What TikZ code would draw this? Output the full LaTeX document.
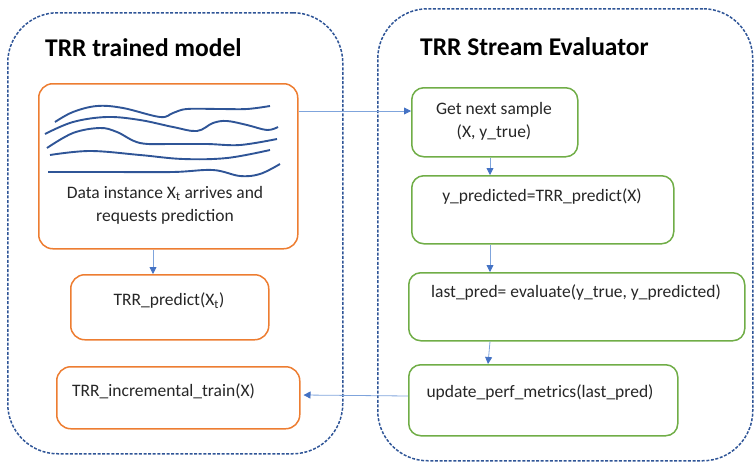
\documentclass[tikz,border=0pt]{standalone}
\usepackage{fontspec}
\setmainfont{Carlito}
\usetikzlibrary{arrows.meta}
\definecolor{frameblue}{HTML}{2F5597}
\definecolor{boxorange}{HTML}{ED7D31}
\definecolor{boxgreen}{HTML}{70AD47}
\definecolor{arrowblue}{HTML}{4472C4}
\definecolor{linkblue}{HTML}{7FA4DC}
\definecolor{wave}{HTML}{2F5597}
\definecolor{txt}{HTML}{262626}
\tikzset{
  panel/.style={draw=frameblue, line width=1.5pt, dash pattern=on 3pt off 1.6pt,
    rounded corners=50pt, rectangle, anchor=north west, inner sep=0pt},
  obox/.style={draw=boxorange, line width=1.5pt, rounded corners=14pt,
    rectangle, anchor=north west, inner sep=0pt},
  gbox/.style={draw=boxgreen, line width=1.5pt, rounded corners=12pt,
    rectangle, anchor=north west, inner sep=0pt},
  paneltitle/.style={font=\fontsize{25.5}{28}\selectfont\bfseries, text=black, anchor=base west, inner sep=0pt},
  boxtext/.style={font=\fontsize{17.5}{21}\selectfont, text=txt, inner sep=0pt},
  link/.style={draw=linkblue, line width=0.8pt, -{Triangle[length=7pt,width=7pt,color=arrowblue,fill=arrowblue]}},
  wavy/.style={draw=wave, line width=1.9pt, smooth, tension=0.6},
}
\begin{document}
\begin{tikzpicture}[x=1pt,y=-1pt]
\useasboundingbox (0,0) rectangle (755,463);
% containers
\node[panel, minimum width=335pt, minimum height=441pt] (left) at (7,12) {};
\node[panel, minimum width=375pt, minimum height=452pt] (right) at (377,8) {};
\node[paneltitle] (ltitle) at (45,56) {TRR trained model};
\node[paneltitle] (rtitle) at (420,55) {TRR Stream Evaluator};

% model side: incoming data box with stream sketch
\node[obox, minimum width=259pt, minimum height=165pt] (data) at (38,83) {};
\draw[wavy] plot coordinates {(55,122) (73,112) (97,106) (123,108) (160,117) (173,113) (187,109) (220,109) (247,109) (270,106)};
\draw[wavy] plot coordinates {(45,134) (73,122) (107,117) (140,120) (173,127) (197,131) (213,123) (227,121) (247,125) (267,130) (278,127)};
\draw[wavy] plot coordinates {(47,148) (73,133) (100,128) (117,132) (140,143) (173,144) (207,144) (240,145) (277,139)};
\draw[wavy] plot coordinates {(50,155) (90,151) (140,155) (183,159) (227,158) (270,150)};
\draw[wavy] plot coordinates {(48,172) (107,172) (173,172) (213,170) (240,176) (260,174) (280,164)};
\node[boxtext, align=center] (datatxt) at (165,205) {Data instance X\textsubscript{t} arrives and\\[2pt]requests prediction};

\node[obox, minimum width=198pt, minimum height=65pt] (pred) at (70,274) {};
\node[boxtext] (predtxt) at (169,301) {TRR\_predict(X\textsubscript{t})};

\node[obox, minimum width=243pt, minimum height=62pt] (inc) at (56,366) {};
\node[boxtext, anchor=west] (inctxt) at (72,391) {TRR\_incremental\_train(X)};

% evaluator side
\node[gbox, minimum width=166pt, minimum height=69pt] (next) at (411,87) {};
\node[boxtext, align=center] (nexttxt) at (494,121) {Get next sample\\[2pt](X, y\_true)};

\node[gbox, minimum width=262pt, minimum height=68pt] (ypred) at (411,175) {};
\node[boxtext] (ypredtxt) at (542,197) {y\_predicted=TRR\_predict(X)};

\node[gbox, minimum width=336pt, minimum height=68pt] (eval) at (408,272) {};
\node[boxtext] (evaltxt) at (576,293) {last\_pred= evaluate(y\_true, y\_predicted)};

\node[gbox, minimum width=269pt, minimum height=71pt] (upd) at (408,364) {};
\node[boxtext] (updtxt) at (540,393) {update\_perf\_metrics(last\_pred)};

% connectors
\draw[link] ([yshift=-28pt]data.north east) -- ([yshift=-24pt]next.north west);
\draw[link] ([xshift=115pt]data.south west) -- ([xshift=83pt]pred.north west);
\draw[link] ([xshift=79pt]next.south west) -- ([xshift=79pt]ypred.north west);
\draw[link] ([xshift=79pt]ypred.south west) -- ([xshift=82pt]eval.north west);
\draw[link] ([xshift=82pt]eval.south west) -- ([xshift=80pt]upd.north west);
\draw[link] ([yshift=-32pt]upd.north west) -- ([xshift=3pt,yshift=-29pt]inc.north east);
\end{tikzpicture}
\end{document}
